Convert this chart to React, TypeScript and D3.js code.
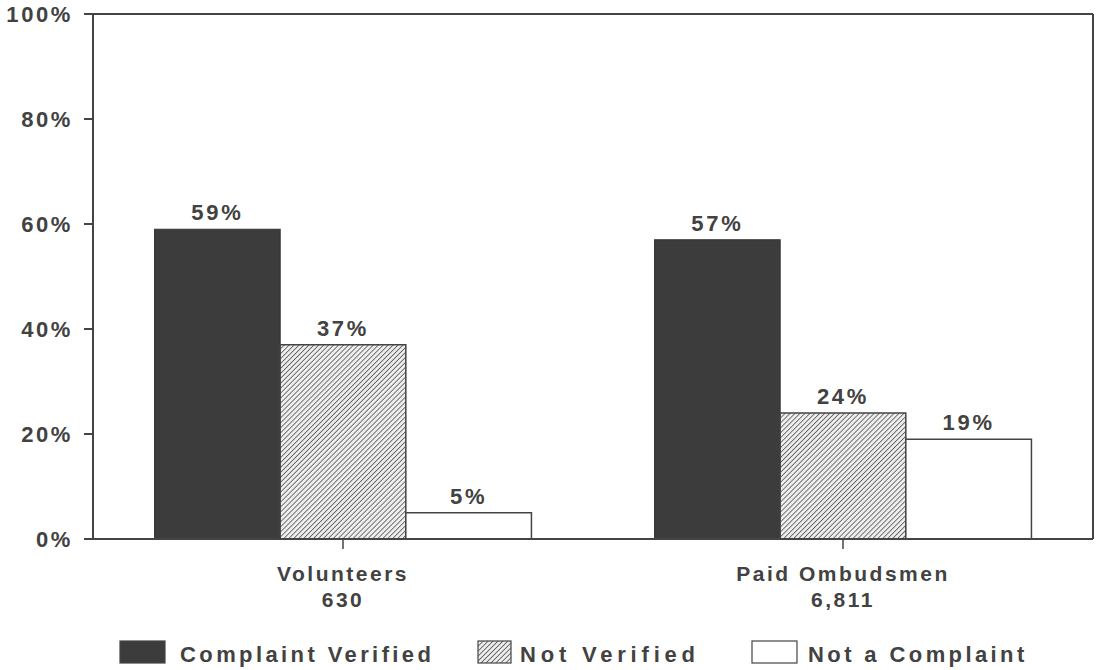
import React from "react";
import * as d3 from "d3";

const groups = ["Volunteers", "Paid Ombudsmen"];
const groupCounts = ["630", "6,811"];
const seriesNames = ["Complaint Verified", "Not Verified", "Not a Complaint"];
const volunteers = [59, 37, 5];
const paid = [57, 24, 19];
const yTicks = [0, 20, 40, 60, 80, 100];

const W = 1103;
const H = 670;
const M = { left: 93, right: 10, top: 14, bottom: 131 };
const FONT = "'Liberation Sans', Arial, sans-serif";
const TXT = "#424242";

export default function App() {
  const values = [volunteers, paid];
  const x0 = d3.scaleBand<string>().domain(groups).range([M.left, W - M.right]).paddingInner(0).paddingOuter(0);
  const x1 = d3.scaleBand<string>().domain(seriesNames).range([0, x0.bandwidth()]).paddingOuter(0.49);
  const y = d3.scaleLinear().domain([0, 100]).range([H - M.bottom, M.top]);
  const fills = ["#3c3c3c", "url(#hatch)", "#ffffff"];
  const y0 = y(0);
  const legend = [
    { x: 120, w: 45, tx: 180, ls: 3.4 },
    { x: 478, w: 33, tx: 520, ls: 4.8 },
    { x: 752, w: 45, tx: 808, ls: 3.4 },
  ];
  return (
    <svg width={W} height={H} style={{ position: "absolute", left: 0, top: 0, background: "#fff" }}>
      <defs>
        <pattern id="hatch" patternUnits="userSpaceOnUse" width="3.5" height="3.5" patternTransform="rotate(45)">
          <rect width="3.5" height="3.5" fill="#eeeeee" />
          <line x1="0" y1="0" x2="0" y2="3.5" stroke="#555" strokeWidth="1.6" />
        </pattern>
      </defs>
      {/* frame */}
      <line x1={M.left} y1={y(100)} x2={W - M.right} y2={y(100)} stroke="#444" strokeWidth={2} />
      <line x1={W - M.right} y1={y(100)} x2={W - M.right} y2={y0} stroke="#444" strokeWidth={2} />
      <line x1={M.left} y1={y(100)} x2={M.left} y2={y0} stroke="#444" strokeWidth={2} />
      {yTicks.map((t) => (
        <g key={t}>
          <line x1={M.left - 9} x2={M.left} y1={y(t)} y2={y(t)} stroke="#444" strokeWidth={2} />
          <text x={73} y={y(t)} dy="0.36em" textAnchor="end" fontFamily={FONT} fontSize={22} fontWeight="bold" fill={TXT} letterSpacing={2.6}>
            {t}%
          </text>
        </g>
      ))}
      {groups.map((g, gi) => (
        <g key={g}>
          {seriesNames.map((s, si) => {
            const v = values[gi][si];
            const bx = x0(g)! + x1(s)!;
            return (
              <g key={s}>
                <rect x={bx} y={y(v)} width={x1.bandwidth()} height={y0 - y(v)} fill={fills[si]} stroke={si === 0 ? "#333" : "#444"} strokeWidth={si === 0 ? 1 : 1.5} />
                <text x={bx + x1.bandwidth() / 2} y={y(v) - 9} textAnchor="middle" fontFamily={FONT} fontSize={22} fontWeight="bold" fill={TXT} letterSpacing={2.7}>
                  {v}%
                </text>
              </g>
            );
          })}
          <line x1={x0(g)! + x0.bandwidth() / 2} x2={x0(g)! + x0.bandwidth() / 2} y1={y0} y2={y0 + 10} stroke="#444" strokeWidth={1.5} />
          <text x={x0(g)! + x0.bandwidth() / 2} y={581} textAnchor="middle" fontFamily={FONT} fontSize={21} fontWeight="bold" fill={TXT} letterSpacing={2.5}>
            {g}
          </text>
          <text x={x0(g)! + x0.bandwidth() / 2} y={607} textAnchor="middle" fontFamily={FONT} fontSize={21} fontWeight="bold" fill={TXT} letterSpacing={2.5}>
            {groupCounts[gi]}
          </text>
        </g>
      ))}
      <line x1={M.left} y1={y0} x2={W - M.right} y2={y0} stroke="#444" strokeWidth={2} />
      {seriesNames.map((s, si) => (
        <g key={s}>
          <rect x={legend[si].x} y={641} width={legend[si].w} height={22} fill={fills[si]} stroke="#444" strokeWidth={1.2} />
          <text x={legend[si].tx} y={662} fontFamily={FONT} fontSize={22} fontWeight="bold" fill={TXT} letterSpacing={legend[si].ls}>
            {s}
          </text>
        </g>
      ))}
    </svg>
  );
}
